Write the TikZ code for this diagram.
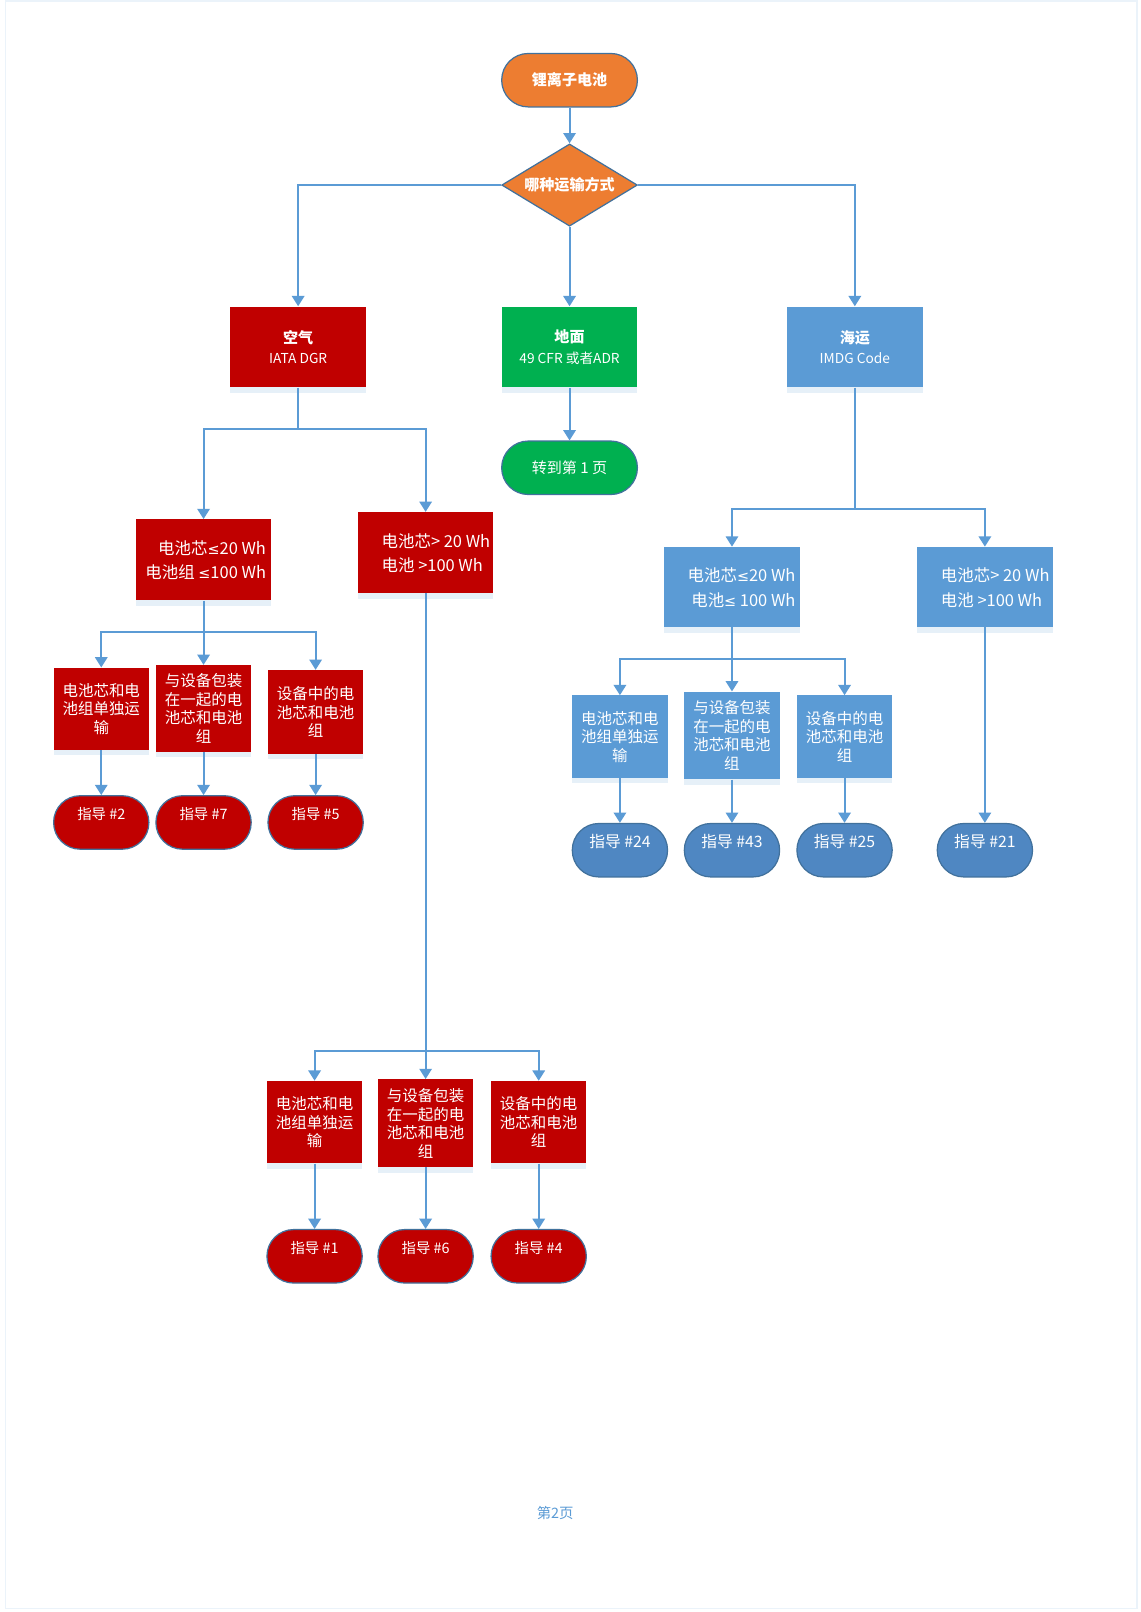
\documentclass[tikz,border=0pt]{standalone}
\usepackage{fontspec}
\setmainfont{Noto Sans CJK SC}
\newfontfamily\symf{DejaVu Sans}
\newcommand{\lessq}{{\symf\fontsize{10.5}{10}\selectfont ≤}}
\usetikzlibrary{shapes.geometric,arrows.meta,shadows}
\definecolor{cred}{HTML}{C00000}
\definecolor{cgreen}{HTML}{00B050}
\definecolor{cblue}{HTML}{5B9BD5}
\definecolor{cbluest}{HTML}{4F87C2}
\definecolor{corange}{HTML}{ED7D31}
\definecolor{cedge}{HTML}{41719C}
\begin{document}
\begin{tikzpicture}[x=0.75pt,y=-0.75pt,
  every node/.style={inner sep=0pt, text=white, align=center},
  shad/.style={drop shadow={shadow xshift=0pt,shadow yshift=-4pt,fill=cblue,opacity=0.15}},
  box/.style={rectangle, minimum width=99pt, minimum height=59pt, shad},
  sbox/.style={rectangle, minimum width=69.5pt, minimum height=60pt, shad,
    font=\fontsize{11.3}{13.5}\selectfont},
  bigst/.style={rectangle, rounded corners=19.4pt, minimum width=99pt, minimum height=39pt,
    draw=cedge, line width=0.9pt},
  sst/.style={rectangle, rounded corners=19.4pt, minimum width=69.5pt, minimum height=39pt,
    draw=cedge, line width=0.9pt, font=\fontsize{10.5}{13.5}\selectfont},
  diam/.style={diamond, aspect=1.65, minimum width=99pt, minimum height=60pt,
    fill=corange, draw=cedge, line width=0.9pt},
  ttl/.style={font=\fontsize{10}{15}\selectfont},
  boxtxt/.style={font=\fontsize{12}{18}\selectfont},
  line/.style={draw=cblue, line width=1.5pt},
  conn/.style={line, -{Triangle[width=9pt,length=7.5pt]}}
]
\fill[white] (0,0) rectangle (1109,1568);
\draw[cblue!12, line width=0.8pt] (5,1) rectangle (1106,1565);

% top
\node[bigst, fill=corange, font=\bfseries\fontsize{11}{13}\selectfont] (start) at (554,78) {锂离子电池};
\node[diam, font=\bfseries\fontsize{11}{13}\selectfont] (q) at (554,180) {哪种运输方式};

\node[box, fill=cred, ttl] (air) at (290,337.5) {{\bfseries\fontsize{11}{15}\selectfont 空气}\\IATA DGR};
\node[box, fill=cgreen, ttl] (land) at (554,337.5) {{\bfseries\fontsize{11}{15}\selectfont 地面}\\49 CFR 或者ADR};
\node[box, fill=cblue, ttl] (sea) at (831.5,337.5) {{\bfseries\fontsize{11}{15}\selectfont 海运}\\IMDG Code};
\node[bigst, fill=cgreen, font=\fontsize{11}{13}\selectfont] (goto) at (554,455) {转到第 1 页};

% air second level
\node[box, fill=cred] (airS) at (198,544.5) {};
\node[boxtxt, anchor=east, align=right] (airSt) at (259,545) {电池芯\lessq20 Wh\\电池组 \lessq100 Wh};
\node[box, fill=cred] (airL) at (414,537.5) {};
\node[boxtxt, anchor=west, align=left] (airLt) at (371,538) {电池芯> 20 Wh\\电池 >100 Wh};

% air small boxes (<=20)
\node[sbox, fill=cred] (a1) at (98.5,689.5) {电池芯和电\\池组单独运\\输};
\node[sbox, fill=cred, minimum height=63pt] (a2) at (198,689) {与设备包装\\在一起的电\\池芯和电池\\组};
\node[sbox, fill=cred, minimum height=61pt] (a3) at (307,692.5) {设备中的电\\池芯和电池\\组};
\node[sst, fill=cred] (g2) at (98.5,800) {指导 \#2\\~};
\node[sst, fill=cred] (g7) at (198,800) {指导 \#7\\~};
\node[sst, fill=cred] (g5) at (307,800) {指导 \#5\\~};

% air small boxes (>20)
\node[sbox, fill=cred] (b1) at (306,1091.5) {电池芯和电\\池组单独运\\输};
\node[sbox, fill=cred, minimum height=64pt] (b2) at (414,1092.5) {与设备包装\\在一起的电\\池芯和电池\\组};
\node[sbox, fill=cred] (b3) at (524,1091.5) {设备中的电\\池芯和电池\\组};
\node[sst, fill=cred] (g1) at (306,1222) {指导 \#1\\~};
\node[sst, fill=cred] (g6) at (414,1222) {指导 \#6\\~};
\node[sst, fill=cred] (g4) at (524,1222) {指导 \#4\\~};

% sea second level
\node[box, fill=cblue, minimum height=58.5pt] (seaS) at (712,571) {};
\node[boxtxt, anchor=east, align=right] (seaSt) at (774,571.5) {电池芯\lessq20 Wh\\电池\lessq{} 100 Wh};
\node[box, fill=cblue, minimum height=58.5pt] (seaL) at (958,571) {};
\node[boxtxt, anchor=west, align=left] (seaLt) at (915,571.5) {电池芯> 20 Wh\\电池 >100 Wh};

\node[sbox, fill=cblue] (c1) at (603,716.5) {电池芯和电\\池组单独运\\输};
\node[sbox, fill=cblue, minimum height=64pt] (c2) at (712,715.5) {与设备包装\\在一起的电\\池芯和电池\\组};
\node[sbox, fill=cblue] (c3) at (821.5,716.5) {设备中的电\\池芯和电池\\组};
\node[sst, fill=cbluest, font=\fontsize{11.5}{13.5}\selectfont] (g24) at (603,827) {指导 \#24\\~};
\node[sst, fill=cbluest, font=\fontsize{11.5}{13.5}\selectfont] (g43) at (712,827) {指导 \#43\\~};
\node[sst, fill=cbluest, font=\fontsize{11.5}{13.5}\selectfont] (g25) at (821.5,827) {指导 \#25\\~};
\node[sst, fill=cbluest, font=\fontsize{11.5}{13.5}\selectfont] (g21) at (958,827) {指导 \#21\\~};

% footer
\node[text=cblue, font=\fontsize{10.5}{13}\selectfont] (pg) at (540,1472) {第2页};

% connectors
\draw[conn] (start) -- (q);
\draw[conn] (q.west) -| (air);
\draw[conn] (q.east) -| (sea);
\draw[conn] (q) -- (land);
\draw[conn] (land) -- (goto);

\coordinate (j1) at (290,417);
\draw[line] (air) -- (j1);
\draw[conn] (j1) -| (airS);
\draw[conn] (j1) -| (airL);

\coordinate (j2) at (198,615);
\draw[line] (airS) -- (j2);
\draw[conn] (j2) -| (a1);
\draw[conn] (j2) -- (a2);
\draw[conn] (j2) -| (a3);
\draw[conn] (a1) -- (g2);
\draw[conn] (a2) -- (g7);
\draw[conn] (a3) -- (g5);

\coordinate (j3) at (414,1022);
\draw[line] (airL) -- (j3);
\draw[conn] (j3) -| (b1);
\draw[conn] (j3) -- (b2);
\draw[conn] (j3) -| (b3);
\draw[conn] (b1) -- (g1);
\draw[conn] (b2) -- (g6);
\draw[conn] (b3) -- (g4);

\coordinate (j4) at (831.5,495);
\draw[line] (sea) -- (j4);
\draw[conn] (j4) -| (seaS);
\draw[conn] (j4) -| (seaL);

\coordinate (j5) at (712,641);
\draw[line] (seaS) -- (j5);
\draw[conn] (j5) -| (c1);
\draw[conn] (j5) -- (c2);
\draw[conn] (j5) -| (c3);
\draw[conn] (c1) -- (g24);
\draw[conn] (c2) -- (g43);
\draw[conn] (c3) -- (g25);
\draw[conn] (seaL) -- (g21);
\end{tikzpicture}
\end{document}
